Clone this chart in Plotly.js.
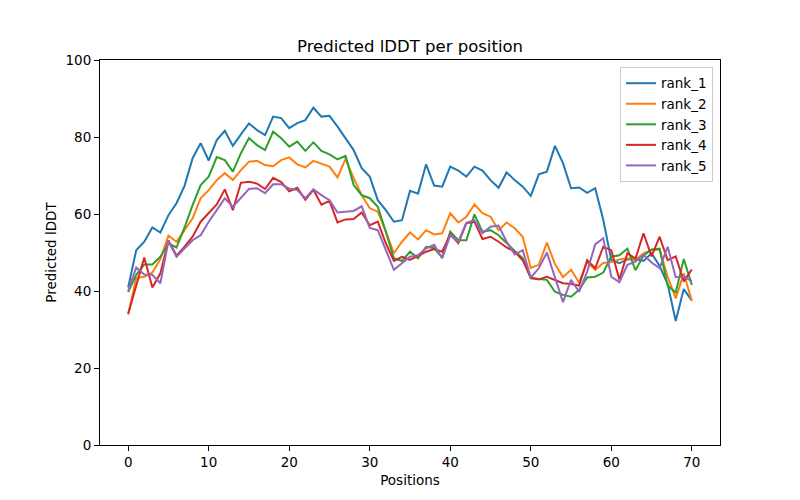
<!DOCTYPE html>
<html>
<head>
<meta charset="utf-8">
<script src="https://cdn.plot.ly/plotly-3.0.1.min.js"></script>
<style>html,body{margin:0;padding:0;background:#fff;}#chart{width:800px;height:500px;}</style>
</head>
<body>
<div id="chart"></div>
<script>
const positions = Array.from({length: 71}, (_, i) => i);
const seriesNames = ["rank_1", "rank_2", "rank_3", "rank_4", "rank_5"];
const seriesColors = ["#1f77b4", "#ff7f0e", "#2ca02c", "#d62728", "#9467bd"];

const rank_1 = [40.9,50.6,52.8,56.5,55.2,59.7,62.8,67.3,74.5,78.4,73.9,79.2,81.6,77.7,80.7,83.5,81.8,80.5,85.3,84.9,82.3,83.6,84.4,87.6,85.3,85.5,82.7,79.7,76.6,71.9,69.7,63.6,61.0,58.0,58.4,66.0,65.3,72.9,67.4,67.1,72.3,71.3,69.7,72.3,71.3,68.8,66.8,70.8,68.8,67.1,64.7,70.3,71.0,77.7,73.2,66.7,66.9,65.5,66.7,58.5,48.0,47.2,48.2,48.3,47.8,49.8,46.5,41.8,32.2,40.5,37.5];
const rank_2 = [33.9,43.4,43.7,44.8,48.3,54.4,52.8,55.8,58.9,64.1,66.2,68.8,70.6,68.8,71.4,73.6,73.8,72.7,72.4,74.0,74.7,72.9,72.1,73.8,73.0,72.3,69.5,74.3,69.3,64.9,61.5,60.6,55.4,49.8,52.8,55.2,53.4,55.8,54.7,55.0,60.2,57.8,59.3,62.5,60.2,59.3,55.8,57.8,56.3,54.1,46.0,46.8,52.6,47.0,43.6,45.5,42.2,47.5,45.5,47.3,47.5,48.2,48.5,48.1,49.8,50.6,50.8,43.7,38.1,44.6,37.4];
const rank_3 = [39.7,44.2,46.9,46.9,48.9,52.4,51.3,56.5,62.3,67.5,69.7,74.8,74.0,71.0,75.8,79.7,77.9,76.6,81.4,79.7,77.5,78.8,76.4,78.6,76.4,75.5,74.2,75.1,67.5,64.9,64.1,61.9,55.4,48.5,47.8,50.2,48.5,51.5,51.1,48.7,55.4,53.2,53.2,59.9,55.4,55.8,54.5,52.4,50.4,48.5,43.3,43.1,42.9,39.8,39.0,38.5,40.3,43.5,43.7,44.8,48.9,49.3,51.0,45.4,49.2,50.8,51.0,41.4,39.6,48.3,41.6];
const rank_4 = [34.1,41.6,48.7,40.9,44.6,53.1,49.2,51.5,54.1,58.0,60.2,62.5,66.4,61.0,68.1,68.4,67.9,66.5,69.4,68.3,65.9,66.8,63.7,66.3,62.4,63.4,57.8,58.6,58.7,60.4,57.1,58.0,52.4,47.8,48.9,48.1,49.1,50.2,50.9,50.2,54.7,52.4,57.6,58.0,53.5,54.1,52.8,51.3,50.2,48.0,43.5,43.0,43.7,42.9,42.0,41.8,41.4,48.0,45.9,51.5,50.6,43.0,49.8,48.4,55.0,49.0,54.1,48.0,49.0,42.5,45.6];
const rank_5 = [40.0,46.1,44.3,44.2,42.0,53.0,48.9,51.1,53.2,54.5,58.0,61.0,64.1,61.9,64.1,66.5,66.7,65.4,67.7,67.7,66.6,66.2,64.1,66.4,64.9,63.6,60.4,60.6,60.8,62.0,56.4,55.8,50.6,45.5,47.2,48.9,49.3,51.1,52.0,48.5,54.5,52.8,57.7,58.4,55.0,56.7,57.0,52.8,49.5,50.6,43.5,45.9,50.0,43.5,37.1,42.9,39.8,45.0,52.1,53.7,43.7,42.3,46.8,47.6,49.4,47.4,45.9,51.5,43.6,43.7,42.6];

const xTicks = [0, 10, 20, 30, 40, 50, 60, 70];
const yTicks = [0, 20, 40, 60, 80, 100];

const allSeries = [rank_1, rank_2, rank_3, rank_4, rank_5];
const traces = allSeries.map((vals, k) => ({
  x: positions,
  y: vals,
  type: "scatter",
  mode: "lines",
  name: seriesNames[k],
  line: {color: seriesColors[k], width: 2}
}));

const font = "DejaVu Sans, sans-serif";
const layout = {
  width: 800,
  height: 500,
  margin: {l: 100, r: 80, t: 60, b: 55},
  paper_bgcolor: "#ffffff",
  plot_bgcolor: "#ffffff",
  font: {family: font, size: 13.5, color: "#000000"},
  title: {
    text: "Predicted lDDT per position",
    font: {family: font, size: 16.5, color: "#000000"},
    x: 0.5125, xanchor: "center",
    y: 0.908, yanchor: "middle", yref: "container"
  },
  xaxis: {
    range: [-3.5, 73.5],
    tickmode: "array",
    tickvals: xTicks,
    ticktext: xTicks.map(String),
    ticks: "outside", ticklen: 5, tickwidth: 1, tickcolor: "#000",
    showline: true, linecolor: "#000", linewidth: 1, mirror: true,
    showgrid: false, zeroline: false,
    title: {text: "Positions", font: {family: font, size: 13.5}, standoff: 6}
  },
  yaxis: {
    range: [0, 100],
    tickmode: "array",
    tickvals: yTicks,
    ticktext: yTicks.map(String),
    ticks: "outside", ticklen: 5, tickwidth: 1, tickcolor: "#000",
    showline: true, linecolor: "#000", linewidth: 1, mirror: true,
    showgrid: false, zeroline: false,
    title: {text: "Predicted lDDT", font: {family: font, size: 13.5}, standoff: 5}
  },
  legend: {
    x: 0.9887, xanchor: "right",
    y: 0.982, yanchor: "top",
    bgcolor: "rgba(255,255,255,0.8)",
    bordercolor: "#cccccc", borderwidth: 1,
    font: {family: font, size: 13.5, color: "#000"},
    tracegroupgap: 0
  },
  showlegend: true
};

Plotly.newPlot("chart", traces, layout, {staticPlot: true, displayModeBar: false});
</script>
</body>
</html>
